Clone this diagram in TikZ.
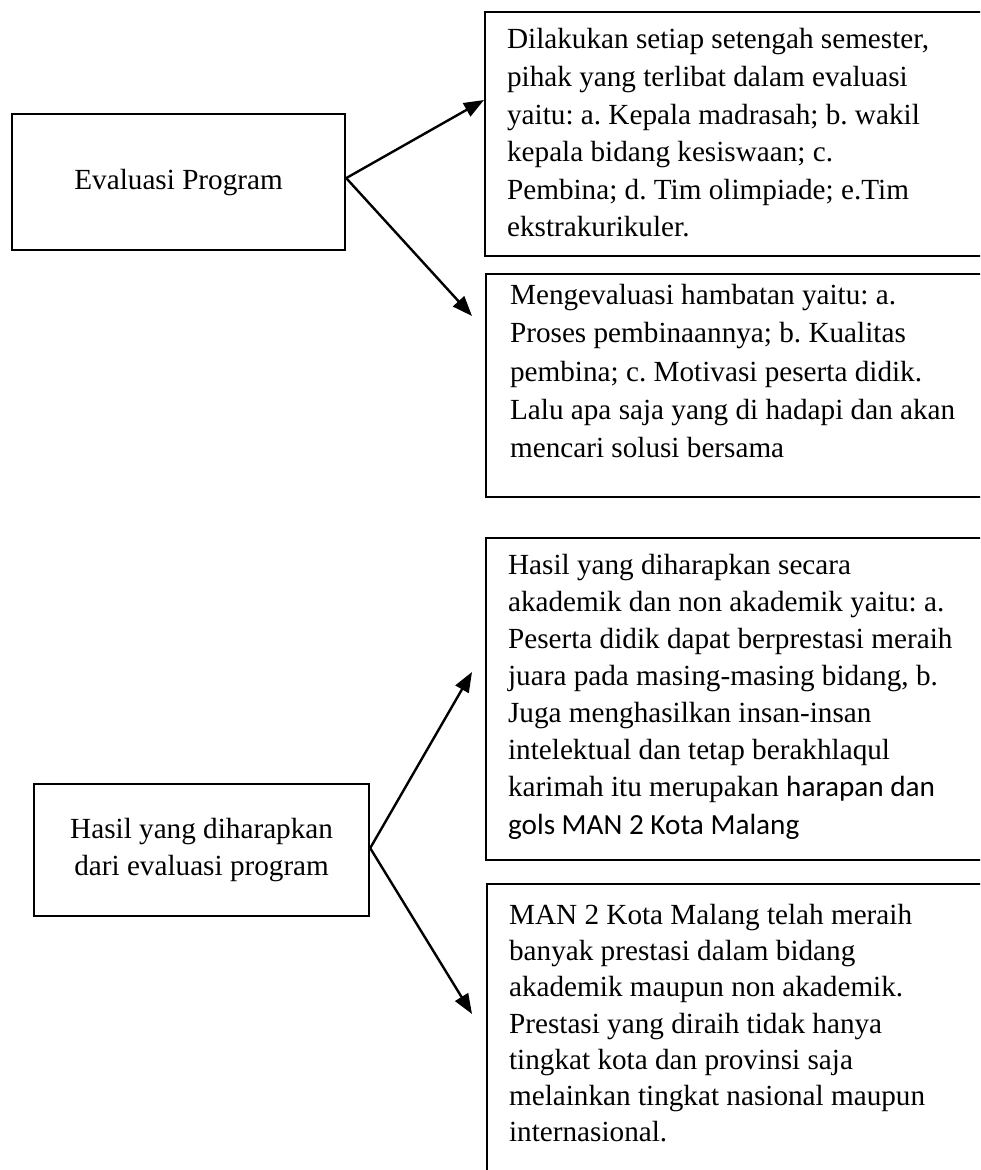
\documentclass[tikz,border=0pt]{standalone}
\usepackage{fontspec}
\setmainfont{Liberation Serif}
\newfontfamily\calibrilike{Carlito}
\usetikzlibrary{arrows.meta}
\frenchspacing

% #1 box height, #2 padding above the first line, #3 line spacing, #4 text
\newcommand\bodytext[4]{%
  \fontsize{29.2pt}{#3}\selectfont
  \parbox[t][#1][t]{470pt}{\raggedright\frenchspacing\vspace*{#2}\strut #4}}

\tikzset{
  frame/.style={draw, line width=2.2pt, inner sep=0pt, anchor=north west,
    font=\fontsize{29.2pt}{37.6pt}\selectfont},
  descbox/.style={frame, inner xsep=22pt},
  link/.style={line width=2.4pt, -{Triangle[length=20pt,width=15pt]}},
}

\begin{document}
\begin{tikzpicture}[x=1pt, y=-1pt]
\useasboundingbox (0,0) rectangle (980,1170);
\clip (0,0) rectangle (980,1170);

% left-hand topic boxes
\node[frame, minimum width=333pt, minimum height=136pt] (ev) at (11,113)
  {Evaluasi Program};
\node[frame, minimum width=335pt, minimum height=132pt, align=center] (hasil) at (33,783)
  {Hasil yang diharapkan\\dari evaluasi program};

% right-hand description boxes (running past the page edge)
\node[descbox] (desc1) at (484,11) {\bodytext{244pt}{10.4pt}{37.6pt}{%
  Dilakukan setiap setengah semester,\\
  pihak yang terlibat dalam evaluasi\\
  yaitu: a. Kepala madrasah; b. wakil\\
  kepala bidang kesiswaan; c.\\
  Pembina; d. Tim olimpiade; e.Tim\\
  ekstrakurikuler.}};

\node[descbox, inner xsep=24pt] (desc2) at (485,273) {\bodytext{223pt}{3.4pt}{38.4pt}{%
  Mengevaluasi hambatan yaitu: a.\\
  Proses pembinaannya; b. Kualitas\\
  pembina; c. Motivasi peserta didik.\\
  Lalu apa saja yang di hadapi dan akan\\
  mencari solusi bersama}};

\node[descbox] (desc3) at (485,537) {\bodytext{322pt}{10.3pt}{37.1pt}{%
  Hasil yang diharapkan secara\\
  akademik dan non akademik yaitu: a.\\
  Peserta didik dapat berprestasi meraih\\
  juara pada masing-masing bidang, b.\\
  Juga menghasilkan insan-insan\\
  intelektual dan tetap berakhlaqul\\
  karimah itu merupakan {\calibrilike harapan dan}\\
  {\calibrilike gols MAN 2 Kota Malang}}};

\node[descbox] (desc4) at (486,883) {\bodytext{337pt}{15pt}{36.2pt}{%
  MAN 2 Kota Malang telah meraih\\
  banyak prestasi dalam bidang\\
  akademik maupun non akademik.\\
  Prestasi yang diraih tidak hanya\\
  tingkat kota dan provinsi saja\\
  melainkan tingkat nasional maupun\\
  internasional.}};

% arrow tips
\coordinate (tA) at (484,100);
\coordinate (tB) at (472,316);
\coordinate (tC) at (472,672);
\coordinate (tD) at (472,1014);

\draw[link] ([yshift=4pt]ev.east) -- (tA);
\draw[link] ([yshift=4pt]ev.east) -- (tB);
\draw[link] ([yshift=2pt]hasil.east) -- (tC);
\draw[link] ([yshift=2pt]hasil.east) -- (tD);
\end{tikzpicture}
\end{document}
